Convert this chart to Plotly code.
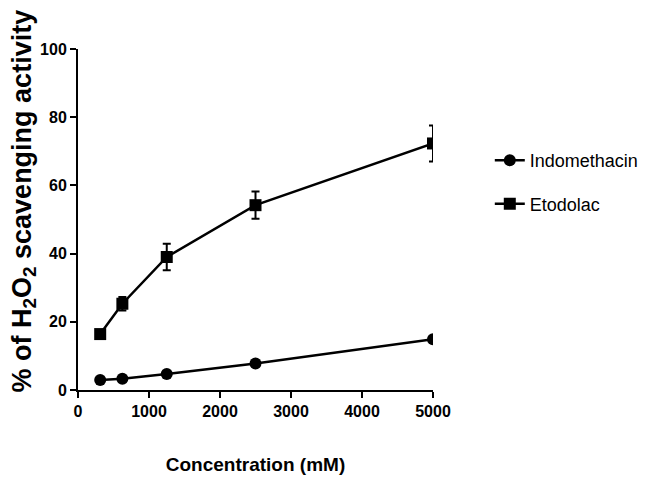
import plotly.graph_objects as go

conc = [312.5, 625, 1250, 2500, 5000]
indo = [2.9, 3.3, 4.7, 7.8, 14.9]
indo_err = [0.6, 0.6, 0.6, 0.6, 0.8]
etod = [16.4, 25.3, 39.0, 54.2, 72.3]
etod_err = [1.2, 2.0, 3.9, 4.0, 5.3]
x_ticks = [0, 1000, 2000, 3000, 4000, 5000]
y_ticks = [0, 20, 40, 60, 80, 100]

# page body adds an 8px offset; shrink figure accordingly
OFF = 8
W, H = 647 - OFF, 481 - OFF
L, R, T, B = 78 - OFF, 214, 49 - OFF, 91

FONT = "Liberation Sans, Arial, sans-serif"

fig = go.Figure()
fig.add_trace(go.Scatter(
    x=conc, y=indo, name="Indomethacin", mode="lines+markers",
    line=dict(color="black", width=2.5),
    marker=dict(symbol="circle", size=12, color="black"),
    error_y=dict(type="data", array=indo_err, color="black", thickness=2, width=4),
    legendgroup="a"))
fig.add_trace(go.Scatter(
    x=conc, y=etod, name="Etodolac", mode="lines+markers",
    line=dict(color="black", width=2.5),
    marker=dict(symbol="square", size=12, color="black"),
    error_y=dict(type="data", array=etod_err, color="black", thickness=2, width=4),
    legendgroup="b"))

tickfont = dict(family=FONT, size=16, color="black")
fig.update_layout(
    width=W, height=H,
    margin=dict(l=L, r=R, t=T, b=B, autoexpand=False),
    paper_bgcolor="white", plot_bgcolor="white",
    font=dict(family=FONT, color="black"),
    showlegend=True,
    legend=dict(x=1.16, y=0.727, xanchor="left", yanchor="top",
                font=dict(size=18, family=FONT, color="black"),
                traceorder="grouped", tracegroupgap=17, itemwidth=30),
    xaxis=dict(range=[0, 5000], tickvals=x_ticks, ticktext=[f"<b>{v}</b>" for v in x_ticks],
               showline=True, linecolor="black", linewidth=2, ticks="outside",
               ticklen=6, tickwidth=2, tickcolor="black", showgrid=False, zeroline=False,
               tickfont=tickfont,
               title=dict(text="<b>Concentration (mM)</b>", font=dict(size=19, family=FONT), standoff=38)),
    yaxis=dict(range=[0, 100], tickvals=y_ticks, ticktext=[f"<b>{v}</b>" for v in y_ticks],
               showline=True, linecolor="black", linewidth=2, ticks="outside",
               ticklen=6, tickwidth=2, tickcolor="black", showgrid=False, zeroline=False,
               tickfont=tickfont),
)

fig.add_annotation(
    text="<b>% of H<sub>2</sub>O<sub>2</sub> scavenging activity</b>",
    textangle=-90, xref="paper", yref="paper",
    x=-(L - (23 - OFF)) / (W - L - R), xanchor="center",
    y=-((395 - OFF) - (H - B)) / (H - T - B), yanchor="bottom",
    showarrow=False, font=dict(size=27, family=FONT, color="black"))

fig.write_html("out.html")
